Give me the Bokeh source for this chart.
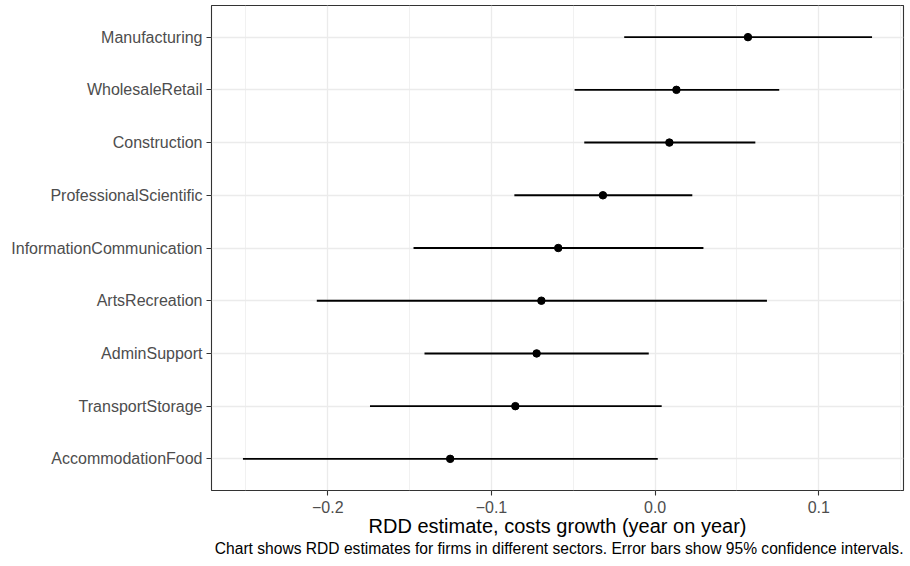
from bokeh.plotting import figure
from bokeh.models import FactorRange, Range1d, FixedTicker, Title, ColumnDataSource
from bokeh.embed import file_html
from bokeh.resources import INLINE

# ---- data (top to bottom as shown) ----
sectors = ["Manufacturing", "WholesaleRetail", "Construction", "ProfessionalScientific",
           "InformationCommunication", "ArtsRecreation", "AdminSupport",
           "TransportStorage", "AccommodationFood"]
estimate = [0.0567, 0.0130, 0.0087, -0.0319, -0.0592, -0.0695, -0.0724, -0.0854, -0.1252]
ci_low = [-0.0189, -0.0492, -0.0433, -0.0860, -0.1476, -0.2067, -0.1409, -0.1742, -0.2518]
ci_high = [0.1325, 0.0758, 0.0612, 0.0227, 0.0295, 0.0683, -0.0039, 0.0040, 0.0016]
x_ticks = [-0.2, -0.1, 0.0, 0.1]
x_tick_labels = ["\u22120.2", "\u22120.1", "0.0", "0.1"]
x_minor_ticks = [-0.25, -0.15, -0.05, 0.05, 0.15]
x_title = "RDD estimate, costs growth (year on year)"
caption_text = ("Chart shows RDD estimates for firms in different sectors. "
                "Error bars show 95% confidence intervals.")

FONT = "Liberation Sans"

lo, hi = min(ci_low), max(ci_high)
pad = (hi - lo) * 0.05

src = ColumnDataSource(dict(sector=sectors, est=estimate, lo=ci_low, hi=ci_high))

p = figure(width=910, height=566, output_backend="svg", toolbar_location=None,
           title=None,
           y_range=FactorRange(factors=list(reversed(sectors)), range_padding=0.1,
                               range_padding_units="absolute"),
           x_range=Range1d(lo - pad, hi + pad),
           min_border_left=211, min_border_right=7, min_border_top=5, min_border_bottom=76)

p.background_fill_color = "white"
p.border_fill_color = "white"
p.outline_line_color = "#333333"
p.outline_line_width = 1.1

p.segment(x0="lo", y0="sector", x1="hi", y1="sector", source=src,
          line_color="black", line_width=1.9)
p.scatter(x="est", y="sector", source=src, size=7.5, fill_color="black",
          line_color="black")

# x axis
p.xaxis.ticker = FixedTicker(ticks=x_ticks, minor_ticks=x_minor_ticks)
p.xaxis.major_label_overrides = dict(zip(x_ticks, x_tick_labels))
p.xaxis.axis_label = x_title
p.xaxis.axis_label_text_font = FONT
p.xaxis.axis_label_text_font_size = "20px"
p.xaxis.axis_label_text_font_style = "normal"
p.xaxis.axis_label_text_color = "black"

for ax in (p.xaxis, p.yaxis):
    ax.axis_line_color = None
    ax.major_tick_line_color = "#333333"
    ax.major_tick_line_width = 1.1
    ax.major_tick_out = 5
    ax.major_tick_in = 0
    ax.minor_tick_line_color = None
    ax.major_label_text_font = FONT
    ax.major_label_text_font_size = "16px"
    ax.major_label_text_color = "#4D4D4D"

p.xaxis.major_label_standoff = 5
p.xaxis.axis_label_standoff = -1
p.yaxis.major_label_standoff = 4

# grids
p.xgrid.grid_line_color = "#EBEBEB"
p.xgrid.grid_line_width = 1.3
p.xgrid.minor_grid_line_color = "#EBEBEB"
p.xgrid.minor_grid_line_width = 0.7
p.ygrid.grid_line_color = "#EBEBEB"
p.ygrid.grid_line_width = 1.3

caption = Title(text=caption_text, align="right", text_font=FONT, text_font_size="15.6px",
                text_font_style="normal", text_color="black", standoff=-3)
p.add_layout(caption, "below")

open("out.html", "w").write(file_html(p, INLINE))
